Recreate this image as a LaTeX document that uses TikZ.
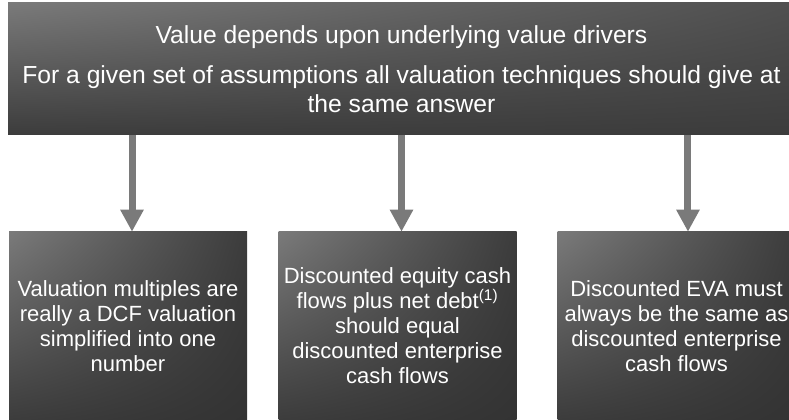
\documentclass[tikz,border=0pt]{standalone}
\usepackage{fontspec}
\setmainfont{Liberation Sans}
\usetikzlibrary{arrows.meta,positioning,shadings}
\definecolor{boxlight}{HTML}{7A7A7A}
\definecolor{boxdark}{HTML}{3C3C3C}
\definecolor{boxdeep}{HTML}{333333}
\definecolor{arrowgray}{HTML}{7A7A7A}
\begin{document}
\begin{tikzpicture}[x=0.75pt,y=0.75pt,
    box/.style={shade,upper left=boxlight,upper right=boxdark,lower left=boxdark,lower right=boxdeep,
      text=white,align=center,inner sep=0pt},
    driver/.style={box,minimum width=178.5pt,minimum height=141pt,font=\fontsize{16.5}{18.75}\selectfont},
    flow/.style={draw=arrowgray,line width=5.25pt,-{Triangle[length=16.5pt,width=16.5pt]}}]
    \useasboundingbox (0,0) rectangle (789,420);
    \clip (0,0) rectangle (789,420);
    % headline box
    \node[box,minimum width=590.25pt,minimum height=99pt,font=\fontsize{18.5}{21.75}\selectfont,
      upper left=boxlight,upper right=boxdark!90!white,lower left=boxdark,lower right=boxdark]
      (top) at (401.5,351) {Value depends upon underlying value drivers\\[8.25pt]
      For a given set of assumptions all valuation techniques should give at\\
      the same answer};
    % three driver boxes
    \node[driver] (mult) at (128,94) {Valuation multiples are\\really a DCF valuation\\simplified into one\\number};
    \node[driver] (dcf) at (397.5,94) {Discounted equity cash\\flows plus net debt\textsuperscript{(1)}\\should equal\\discounted enterprise\\cash flows};
    \node[driver] (eva) at (676.5,94) {Discounted EVA must\\always be the same as\\discounted enterprise\\cash flows};
    \foreach \b/\dx in {mult/3pt,dcf/3pt,eva/8.6pt}
      \draw[flow] ([xshift=\dx]\b.north |- top.south) -- ([xshift=\dx]\b.north);
\end{tikzpicture}
\end{document}
